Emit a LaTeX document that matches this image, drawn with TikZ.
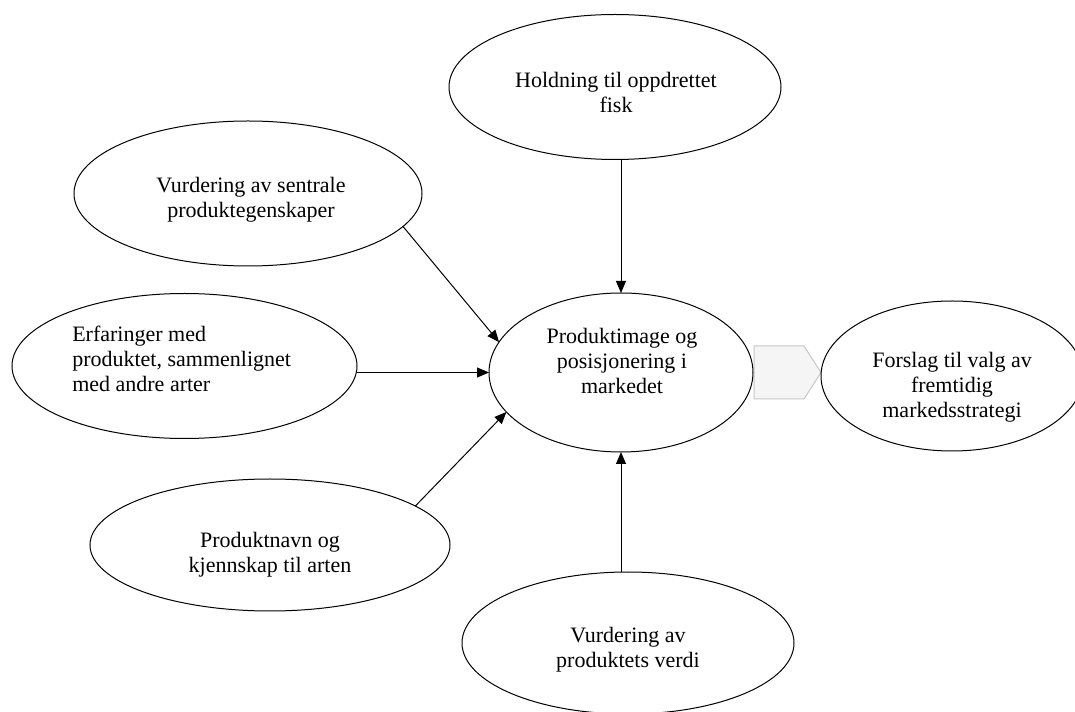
\documentclass[tikz,border=0pt]{standalone}
\usepackage{fontspec}
\setmainfont{Liberation Serif}
\usetikzlibrary{shapes.geometric,arrows.meta}
\begin{document}
\begin{tikzpicture}[x=0.75pt,y=-0.75pt,
  bubble/.style={ellipse,draw=black,line width=0.75pt,inner sep=0pt,outer sep=0pt},
  lbl/.style={align=center,inner sep=0pt,font=\fontsize{16.5}{18.75}\selectfont},
  conn/.style={line width=0.75pt,-{Triangle[length=9pt,width=7.5pt]}},
  flowbox/.style={fill=black!4,draw=black!22,line width=0.75pt}]
\fill[white] (0,0) rectangle (1075,712);
\useasboundingbox (0,0) rectangle (1075,712);
% flow shape between centre and result
\draw[flowbox] (754,346) -- (804,346) -- (821,372.5) -- (804,399) -- (754,399) -- cycle;
% ellipses
\node[bubble,minimum width=249pt,minimum height=108.75pt] (top) at (615,87) {};
\node[bubble,minimum width=261pt,minimum height=108.75pt] (vur) at (248,193.5) {};
\node[bubble,minimum width=258.75pt,minimum height=108.75pt] (erf) at (184.5,366) {};
\node[bubble,minimum width=198pt,minimum height=119.25pt] (cen) at (621,372.5) {};
\node[bubble,minimum width=196.5pt,minimum height=112.5pt] (res) at (952,376) {};
\node[bubble,minimum width=270pt,minimum height=99pt] (prod) at (270,545) {};
\node[bubble,minimum width=249pt,minimum height=106.5pt] (bot) at (628,643) {};
% texts
\node[lbl] (top-t) at (616,92) {Holdning til oppdrettet\\fisk};
\node[lbl] (vur-t) at (251,200) {Vurdering av sentrale\\produktegenskaper};
\node[lbl,align=left,anchor=west] (erf-t) at (72,359) {Erfaringer med\\produktet, sammenlignet\\med andre arter};
\node[lbl] (cen-t) at (622,361) {Produktimage og\\posisjonering i\\markedet};
\node[lbl] (res-t) at (952,387) {Forslag til valg av\\fremtidig\\markedsstrategi};
\node[lbl] (prod-t) at (270,555) {Produktnavn og\\kjennskap til arten};
\node[lbl] (bot-t) at (628,650) {Vurdering av\\produktets verdi};
% connectors
\draw[conn] (top.south -| cen.north) -- (cen.north);
\draw[conn] (vur.-12) -- (cen.166);
\draw[conn] (cen.west -| erf.east) -- (cen.west);
\draw[conn] (prod.15) -- (cen.199);
\draw[conn] (bot.north -| cen.south) -- (cen.south);
\end{tikzpicture}
\end{document}
